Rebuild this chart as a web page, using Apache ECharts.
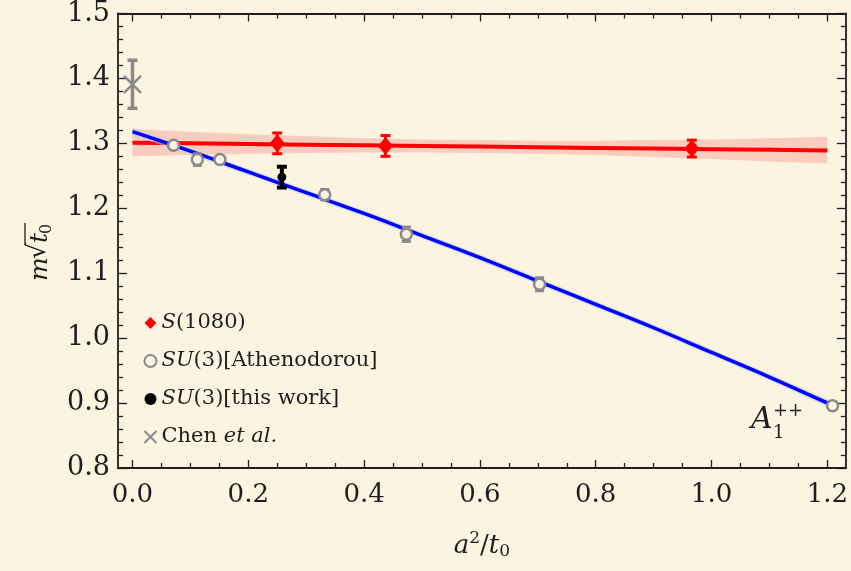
<!DOCTYPE html>
<html>
<head>
<meta charset="utf-8">
<script src="https://cdn.jsdelivr.net/npm/echarts@6/dist/echarts.min.js"></script>
<style>
  html, body { margin: 0; padding: 0; background: #FCF3E0; }
  #chart { width: 851px; height: 571px; }
</style>
</head>
<body>
<div id="chart"></div>
<script>
// S(1080)
const sX = [0.250, 0.437, 0.966]
const sY = [1.300, 1.296, 1.292]
const sErr = [0.016, 0.016, 0.013]

// SU(3) Athenodorou
const athX = [0.071, 0.112, 0.151, 0.332, 0.473, 0.703, 1.209]
const athY = [1.297, 1.275, 1.275, 1.221, 1.160, 1.083, 0.896]
const athErr = [0.005, 0.009, 0.005, 0.008, 0.011, 0.010, 0.006]

// SU(3) this work
const thisX = [0.258]
const thisY = [1.248]
const thisErr = [0.016]

// Chen et al.
const chenX = [0.0]
const chenY = [1.391]
const chenErr = [0.037]

// continuum fits
const fitX = [0, 0.1, 0.2, 0.3, 0.4, 0.5, 0.6, 0.7, 0.8, 0.9, 1.0, 1.1, 1.2]
const redFit = [1.301, 1.300, 1.299, 1.298, 1.297, 1.296, 1.295, 1.294, 1.293, 1.292, 1.291, 1.290, 1.289]
const redHi = [1.322, 1.318, 1.314, 1.311, 1.308, 1.306, 1.305, 1.304, 1.304, 1.305, 1.306, 1.308, 1.310]
const redLo = [1.280, 1.282, 1.284, 1.285, 1.286, 1.286, 1.285, 1.284, 1.282, 1.279, 1.276, 1.272, 1.269]

const blueX = [0, 0.1, 0.2, 0.3, 0.4, 0.5, 0.6, 0.7, 0.8, 0.9, 1.0, 1.1, 1.21]
const blueFit = [1.318, 1.288, 1.256, 1.224, 1.192, 1.158, 1.124, 1.088, 1.052, 1.016, 0.978, 0.940, 0.896]
const blueHi = [1.324, 1.293, 1.261, 1.229, 1.197, 1.163, 1.129, 1.093, 1.057, 1.021, 0.983, 0.945, 0.902]
const blueLo = [1.312, 1.283, 1.251, 1.219, 1.187, 1.153, 1.119, 1.083, 1.047, 1.011, 0.973, 0.935, 0.890]

// axes
const xMajor = [0, 0.2, 0.4, 0.6, 0.8, 1.0, 1.2]
const xMinor = [0.05, 0.1, 0.15, 0.25, 0.3, 0.35, 0.45, 0.5, 0.55, 0.65, 0.7, 0.75, 0.85, 0.9, 0.95, 1.05, 1.1, 1.15]

const FONT = 'DejaVu Serif'
const INK = '#1e1e1e'
const BG = '#FCF3E0'
const GRAY = '#8a8a8a'
const xMin = -0.025
const xMax = 1.232

const zip = (a, b, c) => a.map((v, i) => c ? [v, b[i], c[i]] : [v, b[i]])

function errBars(color, capW, lw) {
  return function(params, api) {
    const x = api.value(0)
    const y = api.value(1)
    const e = api.value(2)
    const top = api.coord([x, y + e])
    const bot = api.coord([x, y - e])
    const st = { stroke: color, lineWidth: lw }
    return {
      type: 'group',
      children: [
        { type: 'line', shape: { x1: top[0], y1: top[1], x2: bot[0], y2: bot[1] }, style: st },
        { type: 'line', shape: { x1: top[0] - capW / 2, y1: top[1], x2: top[0] + capW / 2, y2: top[1] }, style: st },
        { type: 'line', shape: { x1: bot[0] - capW / 2, y1: bot[1], x2: bot[0] + capW / 2, y2: bot[1] }, style: st }
      ]
    }
  }
}

function band(xs, hi, lo, fill) {
  return function(params, api) {
    const pts = []
    xs.forEach((x, i) => pts.push(api.coord([x, hi[i]])))
    for (let i = xs.length - 1; i >= 0; i--) pts.push(api.coord([xs[i], lo[i]]))
    return { type: 'polygon', shape: { points: pts }, style: { fill: fill } }
  }
}

const legendNames = {
  'S(1080)': '{i|S}(1080)',
  'SU(3)[Athenodorou]': '{i|SU}(3)[Athenodorou]',
  'SU(3)[this work]': '{i|SU}(3)[this work]',
  'Chen et al.': 'Chen {i|et al.}'
}

function xAxisCfg(pos, ticks, len, labels) {
  return {
    type: 'value', min: xMin, max: xMax, position: pos,
    axisLine: { show: true, onZero: false, lineStyle: { color: INK, width: 1.8 } },
    axisTick: { show: true, inside: true, length: len, customValues: ticks, lineStyle: { color: INK, width: 1.3 } },
    axisLabel: labels
      ? { show: true, customValues: xMajor, formatter: v => v.toFixed(1), fontFamily: FONT, fontSize: 26, color: INK, margin: 14 }
      : { show: false },
    splitLine: { show: false }
  }
}

function yAxisCfg(pos, labels) {
  return {
    type: 'value', min: 0.8, max: 1.5, interval: 0.1, position: pos,
    axisLine: { show: true, onZero: false, lineStyle: { color: INK, width: 1.8 } },
    axisTick: { show: true, inside: true, length: 9, lineStyle: { color: INK, width: 1.3 } },
    minorTick: { show: true, splitNumber: 5, length: 5, lineStyle: { color: INK, width: 1.3 } },
    axisLabel: labels
      ? { show: true, formatter: v => v.toFixed(1), fontFamily: FONT, fontSize: 27, color: INK, margin: 8 }
      : { show: false },
    splitLine: { show: false },
    minorSplitLine: { show: false }
  }
}

const chart = echarts.init(document.getElementById('chart'))

const xMain = xAxisCfg('bottom', xMajor, 8, true)
xMain.name = '{i|a}{sup|2}/{i|t}{sub|0}'
xMain.nameLocation = 'middle'
xMain.nameGap = 62
xMain.nameTextStyle = {
  fontFamily: FONT, fontSize: 26, color: INK,
  rich: {
    i: { fontFamily: FONT, fontSize: 26, fontStyle: 'italic', color: INK },
    sup: { fontFamily: FONT, fontSize: 17, color: INK, padding: [0, 0, 16, 0] },
    sub: { fontFamily: FONT, fontSize: 17, color: INK, padding: [10, 0, 0, 0] }
  }
}

chart.setOption({
  backgroundColor: BG,
  animation: false,
  grid: { left: 118, right: 1, top: 13, bottom: 103 },
  xAxis: [
    xMain,
    xAxisCfg('bottom', xMinor, 5, false),
    xAxisCfg('top', xMajor, 8, false),
    xAxisCfg('top', xMinor, 5, false)
  ],
  yAxis: [yAxisCfg('left', true), yAxisCfg('right', false)],
  legend: {
    orient: 'vertical',
    left: 137,
    top: 306,
    itemWidth: 12,
    itemHeight: 12,
    itemGap: 14,
    selectedMode: false,
    formatter: name => legendNames[name],
    textStyle: {
      fontFamily: FONT, fontSize: 21, color: INK, lineHeight: 24,
      rich: { i: { fontFamily: FONT, fontSize: 21, fontStyle: 'italic', color: INK } }
    },
    data: [
      { name: 'S(1080)', icon: 'diamond', itemStyle: { color: '#ff0000', borderWidth: 0 } },
      { name: 'SU(3)[Athenodorou]', icon: 'circle', itemStyle: { color: BG, borderColor: GRAY, borderWidth: 2 } },
      { name: 'SU(3)[this work]', icon: 'circle', itemStyle: { color: '#000', borderWidth: 0 } },
      { name: 'Chen et al.', icon: 'path://M0,0L10,10M10,0L0,10', itemStyle: { color: 'none', borderColor: GRAY, borderWidth: 2 } }
    ]
  },
  graphic: [
    {
      type: 'group',
      x: 40, y: 281,
      rotation: Math.PI / 2,
      children: [
        { type: 'text', x: 0, y: 0, style: { text: 'm', font: 'italic 25px "DejaVu Serif"', fill: INK, verticalAlign: 'middle' } },
        { type: 'text', x: 22, y: -2, style: { text: '√', font: '25px "DejaVu Serif"', fill: INK, verticalAlign: 'middle' } },
        { type: 'text', x: 38, y: 0, style: { text: 't', font: 'italic 25px "DejaVu Serif"', fill: INK, verticalAlign: 'middle' } },
        { type: 'text', x: 47, y: 7, style: { text: '0', font: '16px "DejaVu Serif"', fill: INK, verticalAlign: 'middle' } },
        { type: 'line', shape: { x1: 36, y1: -15, x2: 58, y2: -15 }, style: { stroke: INK, lineWidth: 1.3 } }
      ]
    },
    { type: 'text', x: 751, y: 420, style: { text: 'A', font: 'italic 30px "DejaVu Serif"', fill: INK, verticalAlign: 'middle' } },
    { type: 'text', x: 773, y: 433, style: { text: '1', font: '18px "DejaVu Serif"', fill: INK, verticalAlign: 'middle' } },
    { type: 'text', x: 773, y: 411, style: { text: '++', font: '18px "DejaVu Serif"', fill: INK, verticalAlign: 'middle' } }
  ],
  series: [
    { type: 'custom', renderItem: band(fitX, redHi, redLo, '#F8CDBE'), data: [[0, 1]], z: 1, silent: true, clip: true },
    { type: 'line', data: zip(fitX, redFit), symbol: 'none', lineStyle: { color: '#ff0000', width: 4 }, z: 2, silent: true },
    { type: 'custom', renderItem: band(blueX, blueHi, blueLo, 'rgba(175,200,235,0.55)'), data: [[0, 1]], z: 3, silent: true, clip: true },
    { type: 'line', data: zip(blueX, blueFit), smooth: 0.4, symbol: 'none', lineStyle: { color: '#0000ff', width: 3.5 }, z: 4, silent: true },

    { type: 'custom', renderItem: errBars('#ff0000', 10, 3), data: zip(sX, sY, sErr), z: 5, silent: true },
    { type: 'custom', renderItem: errBars(GRAY, 9, 3), data: zip(athX, athY, athErr), z: 5, silent: true },
    { type: 'custom', renderItem: errBars('#000', 10, 4), data: zip(thisX, thisY, thisErr), z: 5, silent: true },
    { type: 'custom', renderItem: errBars(GRAY, 10, 3.5), data: zip(chenX, chenY, chenErr), z: 5, silent: true },

    { name: 'S(1080)', type: 'scatter', data: zip(sX, sY), symbol: 'diamond', symbolSize: [15, 18], itemStyle: { color: '#ff0000', opacity: 1 }, z: 6 },
    { name: 'SU(3)[Athenodorou]', type: 'scatter', data: zip(athX, athY), symbol: 'circle', symbolSize: 11, itemStyle: { color: BG, borderColor: GRAY, borderWidth: 2.5, opacity: 1 }, z: 6 },
    { name: 'SU(3)[this work]', type: 'scatter', data: zip(thisX, thisY), symbol: 'circle', symbolSize: 9, itemStyle: { color: '#000', opacity: 1 }, z: 6 },
    { name: 'Chen et al.', type: 'scatter', data: zip(chenX, chenY), symbol: 'path://M0,0L10,10M10,0L0,10', symbolSize: 17, itemStyle: { color: 'none', borderColor: GRAY, borderWidth: 2.5, opacity: 1 }, z: 6 }
  ]
})
</script>
</body>
</html>
